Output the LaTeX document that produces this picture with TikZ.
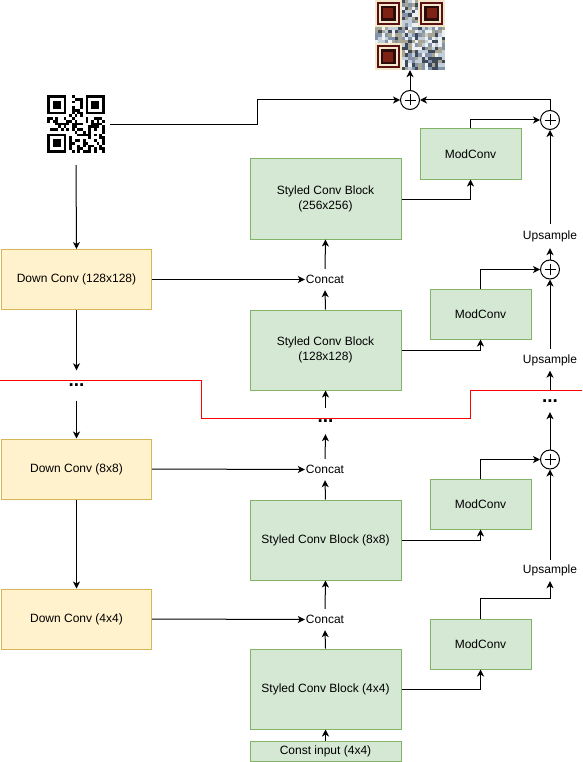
\documentclass[tikz,border=0pt]{standalone}
\usepackage{fontspec}
\setmainfont{Liberation Sans}
\usepackage{xcolor}
\usepackage{tikz}
\usetikzlibrary{arrows.meta}
\definecolor{gfill}{HTML}{D5E8D4}
\definecolor{gline}{HTML}{82B366}
\definecolor{yfill}{HTML}{FFF2CC}
\definecolor{yline}{HTML}{D6B656}
\definecolor{qc1}{HTML}{EEF1F4}
\definecolor{qc2}{HTML}{C3CEDB}
\definecolor{qc3}{HTML}{8493A8}
\definecolor{qc4}{HTML}{3E4A5A}
\definecolor{qc5}{HTML}{A8A592}
\definecolor{qrRed}{HTML}{5A1116}
\definecolor{qrCream}{HTML}{F3E8CA}
\definecolor{qrDark}{HTML}{2A0C0C}
\definecolor{qrCore}{HTML}{7E2214}
\newcommand*{\qrMod}{2.76}
\newcommand*{\qrOutMod}{3.333}
\newcommand*{\qrFinder}[3]{%
  \fill[black] (#1,#2) rectangle ++(7*#3,7*#3);
  \fill[white] (#1+#3,#2+#3) rectangle ++(5*#3,5*#3);
  \fill[black] (#1+2*#3,#2+2*#3) rectangle ++(3*#3,3*#3);
}
\newcommand*{\qrOutFinder}[3]{%
  \fill[qrCream] (#1-0.5*#3,#2-0.5*#3) rectangle ++(8*#3,8*#3);
  \fill[qrRed] (#1,#2) rectangle ++(7*#3,7*#3);
  \fill[qrCream] (#1+0.6*#3,#2+0.6*#3) rectangle ++(5.8*#3,5.8*#3);
  \fill[qrDark] (#1+1.2*#3,#2+1.2*#3) rectangle ++(4.6*#3,4.6*#3);
  \fill[qrCore] (#1+2*#3,#2+2*#3) rectangle ++(3*#3,3*#3);
}
\tikzset{
  styled/.style={draw=gline, fill=gfill, line width=1pt, minimum width=151, minimum height=80, align=center, inner sep=0},
  modconv/.style={draw=gline, fill=gfill, line width=1pt, minimum width=101, minimum height=50, inner sep=0},
  downconv/.style={draw=yline, fill=yfill, line width=1pt, minimum width=150, minimum height=60, inner sep=0},
  label/.style={inner sep=1pt, minimum height=21},
  dots/.style={inner sep=0, font=\fontsize{19}{20}\selectfont\bfseries},
  plus/.style={circle, draw, line width=1pt, minimum size=19, inner sep=0,
    path picture={
      \draw[line width=0.8pt] ([xshift=-5.5pt]path picture bounding box.center) -- ([xshift=5.5pt]path picture bounding box.center);
      \draw[line width=0.8pt] ([yshift=-5.5pt]path picture bounding box.center) -- ([yshift=5.5pt]path picture bounding box.center);
    }},
  conn/.style={line width=1pt, -{Stealth[length=7pt, width=7pt, inset=2pt]}}
}

\begin{document}
\begin{tikzpicture}[x=1pt, y=-1pt, every node/.style={font=\fontsize{12}{14.4}\selectfont}]
  \useasboundingbox (0,0) rectangle (582,762);

  % images
  \node[minimum width=68, minimum height=81, inner sep=0] (qrin) at (76,124.5) {};
  \node[minimum size=70, inner sep=0] (qrout) at (410,35) {};
  \begin{scope}[shift={(47,95)}]
    \pgfmathsetseed{12}
    \foreach \i in {0,...,20} {
      \foreach \j in {0,...,20} {
        \pgfmathrandominteger{\r}{0}{1}
        \ifnum\r=1
          \fill (\i*\qrMod,\j*\qrMod) rectangle ++(\qrMod,\qrMod);
        \fi
      }
    }
    \fill[white] (0,0) rectangle ++(8*\qrMod,8*\qrMod);
    \fill[white] (13*\qrMod,0) rectangle ++(8*\qrMod,8*\qrMod);
    \fill[white] (0,13*\qrMod) rectangle ++(8*\qrMod,8*\qrMod);
    \qrFinder{0}{0}{\qrMod}
    \qrFinder{14*\qrMod}{0}{\qrMod}
    \qrFinder{0}{14*\qrMod}{\qrMod}
  \end{scope}
  \begin{scope}[shift={(375,0)}]
    \pgfmathsetseed{5}
    \foreach \i in {0,...,20} {
      \foreach \j in {0,...,20} {
        \pgfmathrandominteger{\r}{1}{5}
        \fill[qc\r] (\i*\qrOutMod,\j*\qrOutMod) rectangle ++(\qrOutMod,\qrOutMod);
      }
    }
    \qrOutFinder{0.5*\qrOutMod}{0.5*\qrOutMod}{\qrOutMod}
    \qrOutFinder{13.5*\qrOutMod}{0.5*\qrOutMod}{\qrOutMod}
    \qrOutFinder{0.5*\qrOutMod}{13.5*\qrOutMod}{\qrOutMod}
  \end{scope}

  % encoder
  \node[downconv] (dc128) at (76.5,279.5) {Down Conv (128x128)};
  \node[downconv] (dc8) at (76.5,469) {Down Conv (8x8)};
  \node[downconv] (dc4) at (76.5,619) {Down Conv (4x4)};
  \node[dots, minimum height=30] (dotsL) at (76.5,385.5) {...};

  % generator
  \node[styled] (scb256) at (325.5,199) {Styled Conv Block\\(256x256)};
  \node[styled] (scb128) at (325.5,350) {Styled Conv Block\\(128x128)};
  \node[styled] (scb8) at (325.5,540) {Styled Conv Block (8x8)};
  \node[styled] (scb4) at (325.5,689) {Styled Conv Block (4x4)};
  \node[styled, minimum height=20] (const) at (325.5,751) {Const input (4x4)};
  \node[label] (cc128) at (325,279.5) {Concat};
  \node[label] (cc8) at (325,469.5) {Concat};
  \node[label] (cc4) at (325,619.5) {Concat};
  \node[dots, minimum height=26] (dotsC) at (325.5,421) {...};

  % skip branch
  \node[modconv] (mc1) at (470.5,154) {ModConv};
  \node[modconv] (mc2) at (480.5,314) {ModConv};
  \node[modconv] (mc3) at (480.5,504) {ModConv};
  \node[modconv] (mc4) at (480.5,644) {ModConv};
  \node[plus] (p0) at (410,100) {};
  \node[plus] (p1) at (550,120) {};
  \node[plus] (p2) at (550,269.5) {};
  \node[plus] (p3) at (550,459.5) {};
  \node[label, minimum height=24] (up1) at (550,236) {Upsample};
  \node[label] (up2) at (550,360) {Upsample};
  \node[label] (up3) at (550,570.5) {Upsample};
  \node[dots, minimum height=22] (dotsR) at (550,401) {...};

  \draw[red, line width=1pt] (0,380) -- (201,380) -- (201,418) -- (470,418) -- (470,390) -- (582,390);

  \draw[conn] (qrin.south) -- (dc128.north);
  \draw[conn] (qrin.east) -- ++(147,0) |- (p0.west);
  \draw[conn] (p0.north) -- (qrout.south);
  \draw[conn] (p1.north) |- (p0.east);
  \draw[conn] (mc1.north) |- (p1.west);
  \draw[conn] (scb256.east) -| (mc1.south);
  \draw[conn] (up1.north) -- (p1.south);
  \draw[conn] (p2.north) -- (up1.south);

  \draw[conn] (dc128.east) -- (cc128.west);
  \draw[conn] (cc128.north) -- (scb256.south);
  \draw[conn] (scb128.north) -- (cc128.south);
  \draw[conn] (scb128.east) -| (mc2.south);
  \draw[conn] (mc2.north) |- (p2.west);
  \draw[conn] (up2.north) -- (p2.south);
  \draw[conn] (dotsR.north) -- (up2.south);
  \draw[conn] (p3.north) -- (dotsR.south);
  \draw[conn] (dotsC.north) -- (scb128.south);
  \draw[conn] (cc8.north) -- (dotsC.south);
  \draw[conn] (dc128.south) -- (dotsL.north);
  \draw[conn] (dotsL.south) -- (dc8.north);

  \draw[conn] (dc8.east) -- (cc8.west);
  \draw[conn] (scb8.north) -- (cc8.south);
  \draw[conn] (scb8.east) -| (mc3.south);
  \draw[conn] (mc3.north) |- (p3.west);
  \draw[conn] (up3.north) -- (p3.south);

  \draw[conn] (dc8.south) -- (dc4.north);
  \draw[conn] (dc4.east) -- (cc4.west);
  \draw[conn] (cc4.north) -- (scb8.south);
  \draw[conn] (scb4.north) -- (cc4.south);
  \draw[conn] (scb4.east) -| (mc4.south);
  \draw[conn] (mc4.north) -- ++(0,-20) -| (up3.south);
  \draw[conn] (const.north) -- (scb4.south);
\end{tikzpicture}
\end{document}
